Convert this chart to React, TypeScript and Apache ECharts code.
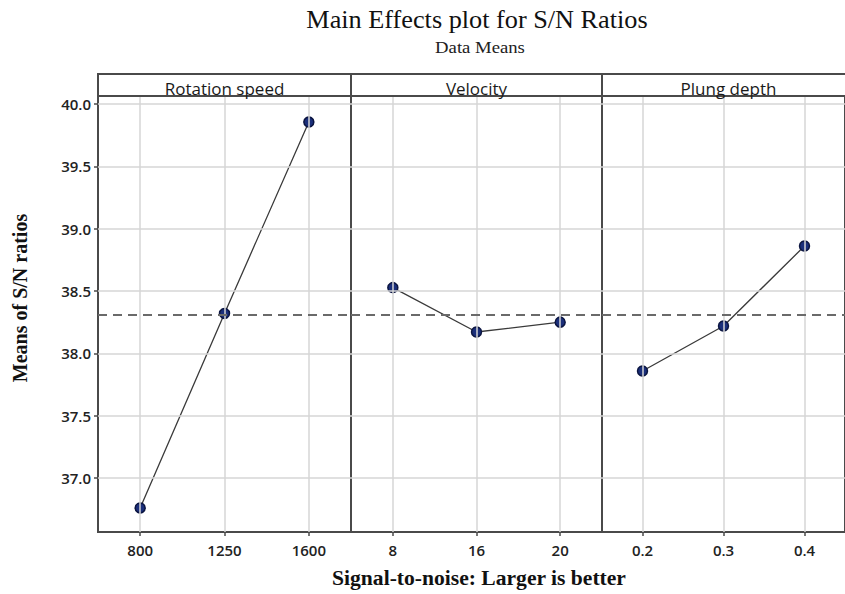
import React, { useEffect, useRef } from "react";
import * as echarts from "echarts";

const factorNames = ["Rotation speed", "Velocity", "Plung depth"];
const rotationLevels = ["800", "1250", "1600"];
const velocityLevels = ["8", "16", "20"];
const depthLevels = ["0.2", "0.3", "0.4"];
const rotationMeans = [36.76, 38.32, 39.855];
const velocityMeans = [38.527, 38.171, 38.25];
const depthMeans = [37.858, 38.219, 38.861];
const overallMean = 38.312;
const yTicks = [37.0, 37.5, 38.0, 38.5, 39.0, 39.5, 40.0];
const yMin = 36.567;
const yMax = 40.064;

const panels = [
  { name: factorNames[0], levels: rotationLevels, values: rotationMeans, left: 98, width: 253 },
  { name: factorNames[1], levels: velocityLevels, values: velocityMeans, left: 351, width: 251 },
  { name: factorNames[2], levels: depthLevels, values: depthMeans, left: 602, width: 253 },
];

const FRAME = "#4a4a4a";
const GRIDC = "#d6d6d6";

export default function App() {
  const ref = useRef<HTMLDivElement>(null);
  useEffect(() => {
    if (!ref.current) return;
    const chart = echarts.init(ref.current, null, { renderer: "svg" });
    const top = 96;
    const bottom = 62;

    const grids = panels.map((p) => ({
      left: p.left,
      width: p.width,
      top,
      bottom,
      show: true,
      borderColor: FRAME,
      borderWidth: 2,
      backgroundColor: "transparent",
    }));

    const xAxes = panels.map((p, i) => ({
      type: "category",
      gridIndex: i,
      data: p.levels,
      boundaryGap: true,
      axisLine: { show: true, lineStyle: { color: FRAME, width: 2 } },
      axisTick: { show: true, alignWithLabel: true, length: 4, lineStyle: { color: FRAME, width: 1.5 } },
      axisLabel: {
        color: "#222",
        fontFamily: "Open Sans",
        fontSize: 15,
        fontWeight: 600,
        margin: 10,
      },
      splitLine: { show: false },
    }));

    const yAxes = panels.map((p, i) => ({
      type: "value",
      gridIndex: i,
      min: yMin,
      max: yMax,
      axisLine: { show: true, lineStyle: { color: FRAME, width: 2 } },
      axisTick: {
        show: i === 0,
        length: 4,
        lineStyle: { color: FRAME, width: 1.5 },
        customValues: yTicks,
      },
      axisLabel: {
        show: i === 0,
        color: "#222",
        fontFamily: "Open Sans",
        fontSize: 15,
        fontWeight: 600,
        margin: 7,
        customValues: yTicks,
        formatter: (v: number) => v.toFixed(1),
      },
      splitLine: { show: false },
    }));

    const series: any[] = [];
    panels.forEach((p, i) => {
      const gridLines: any[] = [];
      yTicks.forEach((t) => gridLines.push({ yAxis: t, lineStyle: { color: GRIDC, width: 1.5, type: "solid" } }));
      p.levels.forEach((lv) => gridLines.push({ xAxis: lv, lineStyle: { color: GRIDC, width: 1.5, type: "solid" } }));
      series.push({
        type: "line",
        xAxisIndex: i,
        yAxisIndex: i,
        data: p.values,
        symbol: "none",
        lineStyle: { opacity: 0 },
        silent: true,
        z: 1,
        markLine: {
          silent: true,
          symbol: ["none", "none"],
          label: { show: false },
          data: gridLines,
        },
      });
      series.push({
        type: "line",
        xAxisIndex: i,
        yAxisIndex: i,
        data: [],
        z: 2,
        markLine: {
          silent: true,
          symbol: ["none", "none"],
          label: { show: false },
          data: [{ yAxis: overallMean, lineStyle: { color: "#6a6a6a", width: 2, type: [9, 6] } }],
        },
      });
      series.push({
        type: "line",
        xAxisIndex: i,
        yAxisIndex: i,
        data: p.values,
        z: 3,
        symbol: "circle",
        symbolSize: 10,
        itemStyle: { color: "#1b2f7a", borderColor: "#0b1540", borderWidth: 1.5 },
        lineStyle: { color: "#3a3a3a", width: 1.3 },
      });
    });

    const graphics: any[] = [];
    panels.forEach((p) => {
      graphics.push({
        type: "rect",
        shape: { x: p.left, y: 74, width: p.width, height: top - 74 },
        style: { fill: "#ffffff", stroke: FRAME, lineWidth: 2 },
        z: 10,
      });
      graphics.push({
        type: "text",
        x: p.left + p.width / 2,
        y: 88,
        style: {
          text: p.name,
          fontFamily: "Open Sans",
          fontSize: 17,
          fill: "#1a1a1a",
          align: "center",
          verticalAlign: "middle",
        },
        z: 11,
      });
    });
    graphics.push({
      type: "text",
      x: 477,
      y: 20,
      scaleX: 1.05,
      style: {
        text: "Main Effects plot for S/N Ratios",
        fontFamily: "Liberation Serif",
        fontSize: 25,
        fill: "#111",
        align: "center",
        verticalAlign: "middle",
      },
    });
    graphics.push({
      type: "text",
      x: 480,
      y: 47,
      scaleX: 1.1,
      style: {
        text: "Data Means",
        fontFamily: "Liberation Serif",
        fontSize: 17,
        fill: "#222",
        align: "center",
        verticalAlign: "middle",
      },
    });
    graphics.push({
      type: "text",
      x: 479,
      y: 578,
      scaleX: 1.08,
      style: {
        text: "Signal-to-noise: Larger is better",
        fontFamily: "Liberation Serif",
        fontSize: 20,
        fontWeight: "bold",
        fill: "#111",
        align: "center",
        verticalAlign: "middle",
      },
    });
    graphics.push({
      type: "text",
      x: 20,
      y: 298,
      rotation: Math.PI / 2,
      style: {
        text: "Means of S/N ratios",
        fontFamily: "Liberation Serif",
        fontSize: 20,
        fontWeight: "bold",
        fill: "#111",
        align: "center",
        verticalAlign: "middle",
      },
    });

    chart.setOption({
      animation: false,
      backgroundColor: "#ffffff",
      grid: grids,
      xAxis: xAxes,
      yAxis: yAxes,
      series,
      graphic: graphics,
    });
    return () => chart.dispose();
  }, []);
  return (
    <div
      ref={ref}
      style={{ position: "fixed", left: 0, top: 0, width: 845, height: 594, background: "#fff" }}
    />
  );
}
